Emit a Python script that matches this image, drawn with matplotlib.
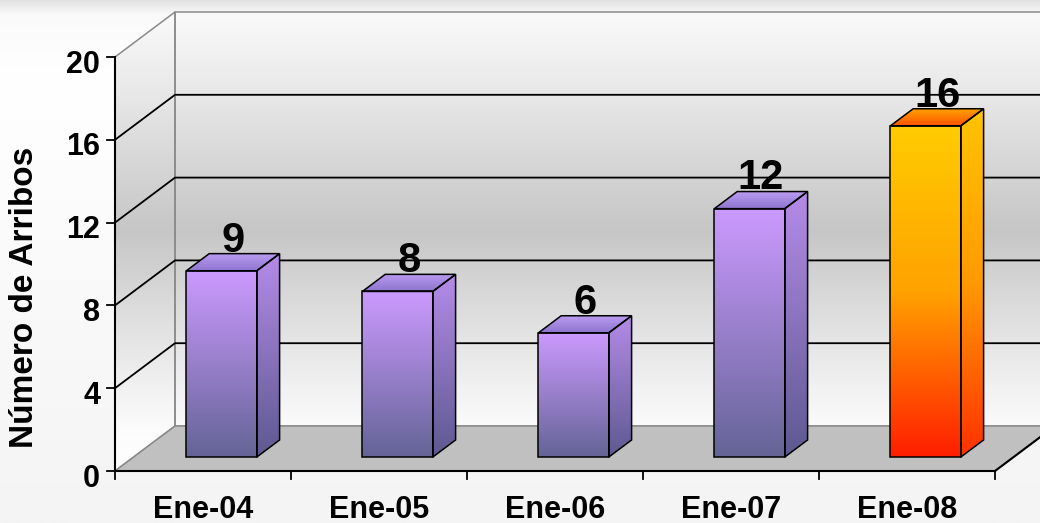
#!/usr/bin/env python3
"""Arribos de enero 2004-2008 as an Excel-like 3D column chart, drawn in 2D."""

import numpy as np
import matplotlib.pyplot as plt
from matplotlib.colors import LinearSegmentedColormap
from matplotlib.patches import Polygon

CATEGORIES = ["Ene-04", "Ene-05", "Ene-06", "Ene-07", "Ene-08"]
VALUES = [9, 8, 6, 12, 16]
Y_TICKS = [0, 4, 8, 12, 16, 20]
Y_LABEL = "Número de Arribos"
HIGHLIGHT = "Ene-08"

# oblique projection of the depth axis, in data units per unit depth
DX = 60 / 176
DY = 45 / 20.7
Z0, Z1 = 0.31, 0.69  # depth span of the columns
HALF_W = 0.2
YMAX = Y_TICKS[-1]

FONT = ["Liberation Sans", "DejaVu Sans"]

# colour pairs are (bottom, top)
PURPLE = {"front": ["#646497", "#cc9aff"],
          "side": ["#5d5990", "#b58be9"],
          "top": ["#8d74cd", "#bc9df3"]}
ORANGE = {"front": ["#ff1e00", "#ffa200", "#ffcc00"],
          "side": ["#ff3000", "#ff9a00", "#ffc400"],
          "top": ["#ff5200", "#ffa400"]}


def shade(ax, xy, colors, zorder, edgecolor="black", lw=1.1, extent=None):
    """Fill a polygon with a vertical gradient (bottom -> top)."""
    xy = np.asarray(xy, dtype=float)
    poly = Polygon(xy, closed=True, facecolor="none", edgecolor=edgecolor,
                   lw=lw, zorder=zorder + 0.1, joinstyle="miter")
    ax.add_patch(poly)
    cmap = LinearSegmentedColormap.from_list("g", colors)
    grad = np.linspace(0, 1, 256).reshape(-1, 1)
    if extent is None:
        extent = (xy[:, 0].min(), xy[:, 0].max(), xy[:, 1].min(), xy[:, 1].max())
    im = ax.imshow(grad, cmap=cmap, origin="lower", aspect="auto",
                   extent=extent, zorder=zorder, interpolation="bilinear")
    im.set_clip_path(poly)


def main() -> None:
    fig = plt.figure(figsize=(10.4, 5.23), dpi=100)
    ax = fig.add_axes([0, 0, 1, 1])
    ax.set_axis_off()

    n = len(CATEGORIES)
    xlim = (-115 / 176, 925 / 176)
    ylim = (-52 / 20.7, 471 / 20.7)

    # page background
    bg = LinearSegmentedColormap.from_list(
        "bg", [(0, "#f4f4f4"), (0.85, "#ffffff"), (0.975, "#fafafa"), (1, "#e2e2e2")])
    ax.imshow(np.linspace(0, 1, 256).reshape(-1, 1), cmap=bg, origin="lower",
              aspect="auto", extent=(*xlim, *ylim), zorder=0)

    # walls
    wall = [(0, "#ffffff"), (0.096, "#fbfbfb"), (0.307, "#e2e2e2"),
            (0.525, "#c6c6c6"), (0.808, "#e6e6e6"), (1, "#fafafa")]
    wall_ext = (0, n + DX, 0, YMAX + DY)
    shade(ax, [(DX, DY), (n + DX, DY), (n + DX, YMAX + DY), (DX, YMAX + DY)],
          wall, 1, edgecolor="#8a8a8a", lw=1.1, extent=wall_ext)
    shade(ax, [(0, 0), (DX, DY), (DX, YMAX + DY), (0, YMAX)],
          wall, 1, edgecolor="#8a8a8a", lw=1.1, extent=wall_ext)

    # gridlines on side and back walls
    for t in Y_TICKS[1:-1]:
        ax.plot([0, DX, n + DX], [t, t + DY, t + DY], color="black", lw=1.3, zorder=3)

    # floor
    ax.add_patch(Polygon([(0, 0), (n, 0), (n + DX, DY), (DX, DY)], closed=True,
                         facecolor="#c0c0c0", edgecolor="#8a8a8a", lw=1.1, zorder=4))
    ax.plot([n, n + DX], [0, DY], color="black", lw=1.5, zorder=5)

    # axes lines and ticks
    ax.plot([0, 0], [0, YMAX], color="black", lw=1.5, zorder=5)
    ax.plot([0, n], [0, 0], color="black", lw=1.5, zorder=5)
    for t in Y_TICKS:
        ax.plot([-8 / 176, 0], [t, t], color="black", lw=1.3, zorder=5)
        ax.text(-15 / 176, t - 0.75, str(t), ha="right", va="baseline",
                fontsize=22, fontweight="bold", family=FONT, zorder=10)
    for i in range(n + 1):
        ax.plot([i, i], [0, -8 / 20.7], color="black", lw=1.3, zorder=5)
    for i, cat in enumerate(CATEGORIES):
        ax.text(i + 0.5, -47 / 20.7, cat, ha="center", va="baseline",
                fontsize=22, fontweight="bold", family=FONT, zorder=10)

    ax.text(-91 / 176, 174 / 20.7, Y_LABEL, rotation=90, ha="center", va="center",
            fontsize=24, fontweight="bold", family=FONT, zorder=10)

    # columns
    ddx, ddy = (Z1 - Z0) * DX, (Z1 - Z0) * DY
    for i, (cat, v) in enumerate(zip(CATEGORIES, VALUES)):
        pal = ORANGE if cat == HIGHLIGHT else PURPLE
        cx = i + 0.5
        xl, xr = cx - HALF_W + Z0 * DX, cx + HALF_W + Z0 * DX
        yb, yt = Z0 * DY, v + Z0 * DY
        z = 6 + i
        shade(ax, [(xl, yb), (xr, yb), (xr, yt), (xl, yt)], pal["front"], z)
        shade(ax, [(xr, yb), (xr + ddx, yb + ddy), (xr + ddx, yt + ddy), (xr, yt)],
              pal["side"], z)
        shade(ax, [(xl, yt), (xr, yt), (xr + ddx, yt + ddy), (xl + ddx, yt + ddy)],
              pal["top"], z)
        ax.text(cx + 0.5 * (Z0 + Z1) * DX, yt + ddy + 0.1, str(v), ha="center",
                va="baseline", fontsize=30, fontweight="bold", family=FONT, zorder=20)

    ax.set_xlim(*xlim)
    ax.set_ylim(*ylim)
    fig.savefig("out.png", dpi=100)


if __name__ == "__main__":
    main()
